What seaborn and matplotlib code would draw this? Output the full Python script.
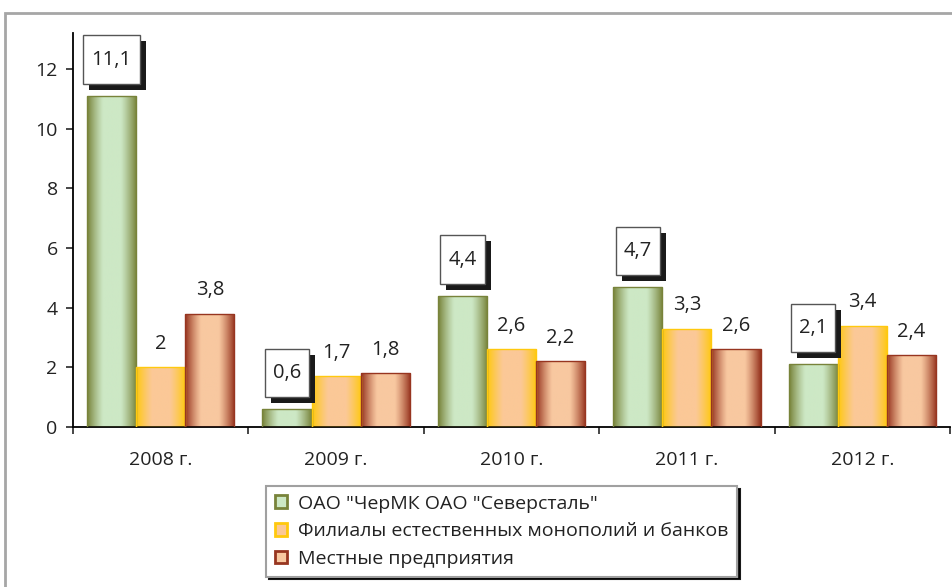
import numpy as np
import pandas as pd
import matplotlib as mpl
mpl.use("Agg")
import matplotlib.pyplot as plt
from matplotlib.patches import Patch, Rectangle
from matplotlib.path import Path
from matplotlib.transforms import IdentityTransform
from matplotlib.colors import to_rgb
import seaborn as sns

# data
years = ["2008 г.", "2009 г.", "2010 г.", "2011 г.", "2012 г."]
series = ['ОАО "ЧерМК ОАО "Северсталь"',
          "Филиалы естественных монополий и банков",
          "Местные предприятия"]
cherm = [11.1, 0.6, 4.4, 4.7, 2.1]
filialy = [2, 1.7, 2.6, 3.3, 3.4]
mestnye = [3.8, 1.8, 2.2, 2.6, 2.4]

# edge colour / centre colour of the gradient for each series
edge_cols = ["#78833a", "#ffc90e", "#973520"]
center_cols = ["#cde8c5", "#fbc897", "#f8c8a0"]

df = pd.DataFrame({
    "year": years * 3,
    "series": [series[0]] * 5 + [series[1]] * 5 + [series[2]] * 5,
    "value": cherm + filialy + mestnye,
})

sns.set_style("white")
plt.rcParams["font.family"] = ["Open Sans", "DejaVu Sans"]

fig = plt.figure(figsize=(9.52, 5.87), dpi=100)
ax = fig.add_axes([73 / 952, 1 - 427 / 587, (950 - 73) / 952, (427 - 33) / 587])

sns.barplot(data=df, x="year", y="value", hue="series", palette=edge_cols,
            width=0.84, ax=ax, legend=False, saturation=1)


def gradient(c_edge, c_mid, n=64):
    t = np.abs(np.linspace(-1, 1, n))
    t = np.clip((t - 0.35) / 0.65, 0, 1) ** 1.2
    e, m = np.array(to_rgb(c_edge)), np.array(to_rgb(c_mid))
    return (m[None, :] * (1 - t[:, None]) + e[None, :] * t[:, None])[None, :, :]


def tall_box(x0, y0, width, height, mutation_size):
    px, py = 0.4 * mutation_size, 0.7 * mutation_size
    x0, y0 = x0 - px, y0 - py
    x1, y1 = x0 + width + 2 * px, y0 + height + 2 * py
    return Path([(x0, y0), (x1, y0), (x1, y1), (x0, y1), (x0, y0)], closed=True)


boxed = []
for i, cont in enumerate(ax.containers):
    grad = gradient(edge_cols[i], center_cols[i])
    for bar in cont:
        x0, y0 = bar.get_x(), bar.get_y()
        w, h = bar.get_width(), bar.get_height()
        im = ax.imshow(grad, extent=[x0, x0 + w, y0, y0 + h], aspect="auto",
                       zorder=2, interpolation="bilinear")
        im.set_clip_path(bar)
        bar.set_facecolor("none")
        bar.set_edgecolor(edge_cols[i])
        bar.set_linewidth(1)
        bar.set_zorder(3)

    vals = [cherm, filialy, mestnye][i]
    for bar, v in zip(cont, vals):
        txt = f"{v:g}".replace(".", ",")
        cx = bar.get_x() + bar.get_width() / 2
        top = bar.get_height()
        if i == 0:
            t = ax.annotate(txt, (cx, top), xytext=(0, 26), textcoords="offset points",
                            ha="center", va="center", fontsize=14.5, color="#222222",
                            bbox=dict(boxstyle=tall_box, fc="white", ec="#555555", lw=1),
                            zorder=5, annotation_clip=False)
            boxed.append(t)
        else:
            ax.annotate(txt, (cx, top), xytext=(0, 17), textcoords="offset points",
                        ha="center", va="center", fontsize=14.5, color="#222222",
                        zorder=5, annotation_clip=False)

ax.set_xlim(-0.5, 4.5)
ax.set_ylim(0, 13.2)
ax.set_yticks(range(0, 13, 2))
ax.set_yticklabels([str(v) for v in range(0, 13, 2)], fontsize=14, color="#222222")
ax.set_xticks(np.arange(-0.5, 5, 1))
ax.set_xticklabels([])
ax.set_xticks(range(5), minor=True)
ax.set_xticklabels(years, minor=True, fontsize=14, color="#222222")
ax.tick_params(axis="x", which="minor", length=0, pad=17)
ax.tick_params(axis="x", which="major", length=5, width=1.2, direction="out", bottom=True)
ax.tick_params(axis="y", length=5, width=1.2, direction="out", left=True, pad=6)
ax.set_xlabel("")
ax.set_ylabel("")
sns.despine(ax=ax, top=True, right=True)
for s in ["left", "bottom"]:
    ax.spines[s].set_color("black")
    ax.spines[s].set_linewidth(1.3)

handles = [Patch(facecolor=center_cols[i], edgecolor=edge_cols[i], lw=2) for i in range(3)]
leg = fig.legend(handles, series, loc="center", bbox_to_anchor=(0.527, 0.095),
                 fontsize=14, frameon=True, fancybox=False, shadow={"color": "black", "alpha": 0.9},
                 handlelength=0.6, handleheight=0.6, handletextpad=0.6, labelspacing=0.5,
                 borderpad=0.45, borderaxespad=0)
leg.get_frame().set_edgecolor("#a0a0a0")
leg.get_frame().set_linewidth(1.5)
for t in leg.get_texts():
    t.set_color("#222222")

# black drop shadows behind the white label boxes
fig.canvas.draw()
renderer = fig.canvas.get_renderer()
for t in boxed:
    bb = t.get_bbox_patch().get_window_extent(renderer)
    ax.add_artist(Rectangle((bb.x0 + 6, bb.y0 - 6), bb.width, bb.height,
                            transform=IdentityTransform(), fc="#1a1a1a", ec="none",
                            zorder=4, clip_on=False))

# outer chart border
fig.add_artist(Rectangle((5 / 952, -0.05), 1.0, 0.05 + 1 - 13 / 587, transform=fig.transFigure,
                         fill=False, ec="#a6a6a6", lw=2, clip_on=False))

fig.savefig("out.png", dpi=100)
